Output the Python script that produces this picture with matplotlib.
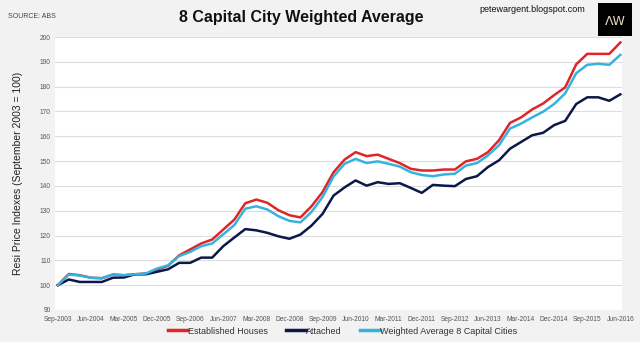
import matplotlib
matplotlib.use("Agg")
import matplotlib.pyplot as plt
from matplotlib import font_manager as fm

quarters = ["Sep-2003", "Jun-2004", "Mar-2005", "Dec-2005", "Sep-2006", "Jun-2007",
            "Mar-2008", "Dec-2008", "Sep-2009", "Jun-2010", "Mar-2011", "Dec-2011",
            "Sep-2012", "Jun-2013", "Mar-2014", "Dec-2014", "Sep-2015", "Jun-2016"]

established = [100, 104.5, 104.0, 103.0, 102.8, 104.3, 104.0, 104.4, 104.7, 106.3,
               107.8, 112.0, 114.4, 116.8, 118.4, 122.4, 126.4, 133.0, 134.5, 133.2,
               130.2, 128.2, 127.3, 131.8, 137.5, 145.5, 150.6, 153.6, 152.0, 152.6,
               150.9, 149.2, 146.9, 146.2, 146.2, 146.6, 146.6, 149.9, 150.9, 153.6,
               158.4, 165.4, 167.6, 170.8, 173.2, 176.6, 179.7, 189.0, 193.2, 193.2,
               193.2, 197.8]

weighted = [100, 104.3, 103.9, 103.0, 102.8, 104.3, 104.0, 104.4, 104.7, 106.7,
            108.0, 111.7, 113.4, 115.7, 116.8, 120.5, 124.2, 130.8, 131.8, 130.5,
            127.8, 125.9, 125.3, 129.5, 135.5, 143.8, 148.9, 150.9, 149.2, 149.9,
            148.9, 147.8, 145.5, 144.4, 143.9, 144.6, 144.9, 148.2, 149.2, 152.3,
            156.4, 163.1, 165.1, 167.6, 169.9, 173.0, 177.3, 185.4, 188.8, 189.2,
            188.8, 192.8]

attached = [100, 102.3, 101.3, 101.3, 101.3, 103.0, 103.1, 104.4, 104.4, 105.4,
            106.4, 109.0, 109.0, 111.1, 111.1, 115.7, 119.2, 122.6, 122.1, 121.1,
            119.7, 118.7, 120.4, 124.0, 128.7, 136.1, 139.4, 142.2, 140.1, 141.5,
            140.8, 141.1, 139.2, 137.2, 140.4, 140.1, 139.9, 142.8, 143.9, 147.6,
            150.3, 155.0, 157.7, 160.4, 161.4, 164.5, 166.2, 173.0, 175.7, 175.7,
            174.3, 176.9]

names = {f.name for f in fm.fontManager.ttflist}
narrow = "Liberation Sans Narrow" if "Liberation Sans Narrow" in names else "Liberation Sans"
fam = [narrow, "DejaVu Sans"]

BG = "#f2f2f2"
RED = "#e02427"
NAVY = "#0b1848"
CYAN = "#35b3e0"

fig = plt.figure(figsize=(6.4, 3.42), dpi=100, facecolor=BG)
ax = fig.add_axes([55/640, 1 - 310/342, 567/640, (310 - 37)/342])
ax.set_facecolor("white")

x = list(range(len(established)))
ax.plot(x, established, color=RED, lw=1.8, label="Established Houses", zorder=3)
ax.plot(x, attached, color=NAVY, lw=1.8, label="Attached", zorder=3)
ax.plot(x, weighted, color=CYAN, lw=1.8, label="Weighted Average 8 Capital Cities", zorder=4)

ax.set_xlim(-0.25, 51.15)
ax.set_ylim(90, 200)
ax.set_yticks(range(90, 201, 10))
ax.set_xticks(range(0, 52, 3))
ax.set_xticklabels(quarters)
ax.tick_params(axis="both", length=0, labelsize=4.8, labelcolor="#555555", pad=3)
ax.tick_params(axis="x", pad=4)
for lab in ax.get_xticklabels() + ax.get_yticklabels():
    lab.set_family(fam)
ax.yaxis.grid(True, color="#dddddd", lw=0.8)
ax.set_axisbelow(True)
for s in ax.spines.values():
    s.set_visible(False)

ax.set_ylabel("Resi Price Indexes (September 2003 = 100)", fontsize=7.5,
              family=fam, color="#222222", labelpad=12)

fig.text(0.47, 0.948, "8 Capital City Weighted Average", ha="center", va="center",
         fontsize=11.5, fontweight="bold", family=fam, color="#111111")
fig.text(0.012, 0.953, "SOURCE: ABS", ha="left", va="center", fontsize=5,
         family=fam, color="#444444")
fig.text(0.915, 0.972, "petewargent.blogspot.com", ha="right", va="center",
         fontsize=6.5, family=fam, color="#111111")

logo = fig.add_axes([598/640, 1 - 36/342, 34/640, 33/342])
logo.set_facecolor("black")
logo.set_xticks([]); logo.set_yticks([])
for s in logo.spines.values():
    s.set_visible(False)
logo.text(0.5, 0.45, "ΛW", ha="center", va="center", color="#e8dcc0",
          fontsize=9, family=["DejaVu Sans"], transform=logo.transAxes)

leg = fig.legend(loc="center", bbox_to_anchor=(0.535, 0.032), ncol=3, frameon=False,
                 handlelength=2.2, handletextpad=0.05, columnspacing=2.0,
                 prop={"family": fam, "size": 6.5})
for t in leg.get_texts():
    t.set_color("#333333")
for l in leg.get_lines():
    l.set_linewidth(2.5)

fig.savefig("out.png", dpi=100, facecolor=BG)
